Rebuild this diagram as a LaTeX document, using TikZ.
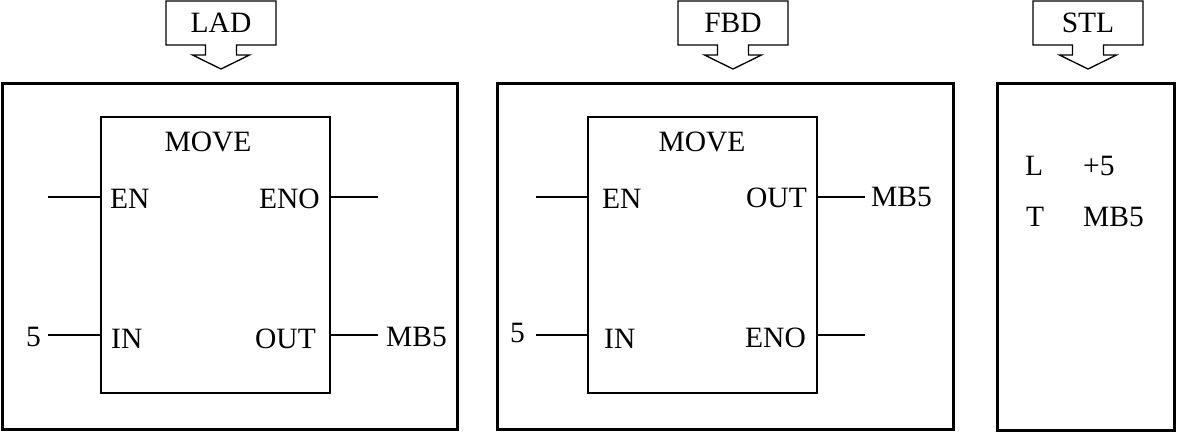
\documentclass[tikz,border=0pt]{standalone}
\usepackage{fontspec}
\setmainfont{Liberation Serif}
\usepackage{tikz}
\tikzset{
	panel/.style = {line width=3pt},
	block/.style = {draw, line width=1.3pt, minimum width=229pt, minimum height=276pt, inner sep=0pt},
	wire/.style = {line width=1.3pt},
	lbl/.style = {inner sep=0pt, font=\fontsize{29.5}{31}\selectfont}
}

\begin{document}
\begin{tikzpicture}[x=1pt,y=-1pt]
	\useasboundingbox (0,0) rectangle (1177,432);
	% language arrows
	\foreach \cx/\lang in {221/LAD,733/FBD,1088/STL}{
		\draw[wire] (\cx-55,1) -- ++(110,0) -- ++(0,44) -- ++(-39.5,0) -- ++(0,10) -- ++(13,0) -- (\cx,69) -- (\cx-28.5,55) -- ++(13,0) -- ++(0,-10) -- (\cx-55,45) -- cycle;
		\node[lbl] (head\lang) at (\cx,23) {\lang};
	}
	\draw[panel] (2,83) rectangle (457,429);
	\draw[panel] (497,83) rectangle (953,429);
	\draw[panel] (997,83) rectangle (1174,430);
	% LAD
	\node[block] (lad) at (215.5,255) {};
	\node[lbl, anchor=base] (ladMOVE) at (208,151) {MOVE};
	\coordinate (ladEN) at (101,197);
	\coordinate (ladENw) at (48,197);
	\coordinate (ladENO) at (330,197);
	\coordinate (ladENOe) at (378,197);
	\coordinate (ladIN) at (101,335);
	\coordinate (ladINw) at (48,335);
	\coordinate (ladOUT) at (330,335);
	\coordinate (ladOUTe) at (378,335);
	\draw[wire] (ladENw) -- (ladEN);
	\draw[wire] (ladENO) -- (ladENOe);
	\draw[wire] (ladINw) -- (ladIN);
	\draw[wire] (ladOUT) -- (ladOUTe);
	\node[lbl, anchor=base west] (ladENl) at (110,208) {EN};
	\node[lbl, anchor=base east] (ladENOl) at (320,208) {ENO};
	\node[lbl, anchor=base west] (ladINl) at (111,348) {IN};
	\node[lbl, anchor=base east] (ladOUTl) at (316,348) {OUT};
	\node[lbl, anchor=base east] (ladfive) at (41,346) {5};
	\node[lbl, anchor=base west] (ladMB) at (386,346) {MB5};
	% FBD
	\node[block] (fbd) at (702.5,255) {};
	\node[lbl, anchor=base] (fbdMOVE) at (702,151) {MOVE};
	\coordinate (fbdEN) at (588,197);
	\coordinate (fbdENw) at (536,197);
	\coordinate (fbdOUT) at (817,197);
	\coordinate (fbdOUTe) at (865,197);
	\coordinate (fbdIN) at (588,335);
	\coordinate (fbdINw) at (536,335);
	\coordinate (fbdENO) at (817,335);
	\coordinate (fbdENOe) at (865,335);
	\draw[wire] (fbdENw) -- (fbdEN);
	\draw[wire] (fbdOUT) -- (fbdOUTe);
	\draw[wire] (fbdINw) -- (fbdIN);
	\draw[wire] (fbdENO) -- (fbdENOe);
	\node[lbl, anchor=base west] (fbdENl) at (602,208) {EN};
	\node[lbl, anchor=base east] (fbdOUTl) at (807,207) {OUT};
	\node[lbl, anchor=base west] (fbdINl) at (604,348) {IN};
	\node[lbl, anchor=base east] (fbdENOl) at (806,347) {ENO};
	\node[lbl, anchor=base east] (fbdfive) at (525,342) {5};
	\node[lbl, anchor=base west] (fbdMB) at (871,206) {MB5};
	% STL
	\node[lbl, anchor=base west] (stlL) at (1025,175) {L};
	\node[lbl, anchor=base west] (stlLarg) at (1083,175) {+5};
	\node[lbl, anchor=base west] (stlT) at (1026,226) {T};
	\node[lbl, anchor=base west] (stlTarg) at (1083,226) {MB5};
\end{tikzpicture}
\end{document}
